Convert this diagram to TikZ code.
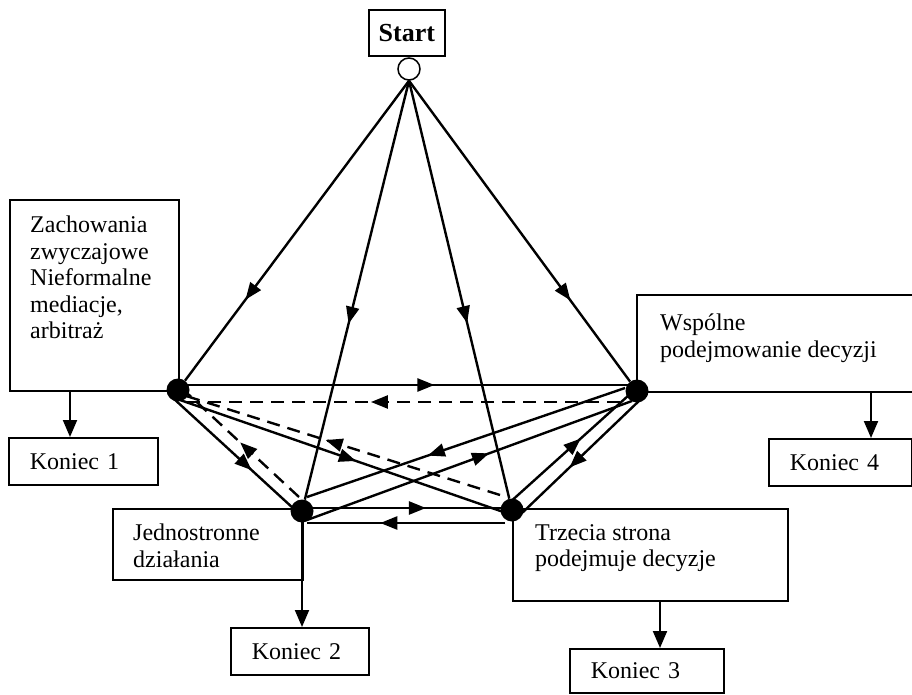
\documentclass[tikz,border=0pt]{standalone}
\usepackage{fontspec}
\setmainfont{Liberation Serif}
\usetikzlibrary{arrows.meta,decorations.markings,calc}
\begin{document}
\begin{tikzpicture}[x=1pt,y=-1pt,
  box/.style={draw,line width=1.6pt,inner sep=0pt},
  lbl/.style={font=\fontsize{24}{26.5}\selectfont,align=left,inner sep=0pt,anchor=north west},
  kbox/.style={draw,line width=1.6pt,font=\fontsize{24}{26.5}\selectfont,align=left,inner xsep=21pt,inner ysep=0pt,anchor=north west},
  dot/.style={circle,fill=black,inner sep=0pt,minimum size=23pt},
  edge/.style={line width=2.4pt},
  dashedge/.style={line width=2.4pt,dash pattern=on 13pt off 8pt},
  tip/.style={postaction={decorate},decoration={markings,mark=at position #1 with {\arrow{Triangle[length=17pt,width=13pt]}}}},
  down/.style={line width=2pt,-{Triangle[length=17pt,width=14pt]}}
]
\useasboundingbox (0,0) rectangle (912,695);

% boxes
\node[box,anchor=north west,minimum width=76pt,minimum height=46pt,font=\bfseries\fontsize{26}{30}\selectfont] (St) at (368,9) {Start};
\node[box,anchor=north west,minimum width=169pt,minimum height=191pt] (L) at (9,199) {};
\node[box,anchor=north west,minimum width=290pt,minimum height=97pt] (R) at (636,294) {};
\node[box,anchor=north west,minimum width=190pt,minimum height=71pt] (J) at (112,508) {};
\node[box,anchor=north west,minimum width=275pt,minimum height=92pt] (T) at (512,508) {};

\node[lbl] (Lt) at (30,216) {Zachowania\\zwyczajowe\\Nieformalne\\mediacje,\\arbitraż};
\node[lbl] (Rt) at (660,314) {Wspólne\\podejmowanie decyzji};
\node[lbl] (Jt) at (133,524) {Jednostronne\\działania};
\node[lbl] (Tt) at (535,524) {Trzecia strona\\podejmuje decyzje};

\node[kbox,text width=107pt,minimum height=47pt] (K1) at (8,437) {Koniec 1};
\node[kbox,text width=96pt,minimum height=47pt] (K2) at (230,627) {Koniec 2};
\node[kbox,text width=112pt,minimum height=44pt] (K3) at (569,648) {Koniec 3};
\node[kbox,text width=101pt,minimum height=47pt] (K4) at (768,438) {Koniec 4};

% start circle and dots
\node[circle,draw,line width=1.5pt,minimum size=22pt,inner sep=0pt,fill=white] (S) at (409,69) {};
\node[dot] (A) at (178,390) {};
\node[dot] (B) at (637,391) {};
\node[dot] (C) at (302,511) {};
\node[dot] (D) at (512,510) {};

% from start
\draw[edge,tip=0.73] (S.south) -- (A);
\draw[edge,tip=0.58] (S.south) -- (C);
\draw[edge,tip=0.58] (S.south) -- (D);
\draw[edge,tip=0.73] (S.south) -- (B);

% between dots
\draw[edge,tip=0.56] ($(A)+(5,-5)$) -- ($(B)+(-5,-6)$);
\draw[dashedge,tip=0.57] ($(B)+(-17,11)$) -- ($(A)+(5,12)$);
\draw[edge,tip=0.65] ($(A)+(-5,8)$) -- ($(C)+(-8,-2)$);
\draw[dashedge,tip=0.53] ($(C)+(-3,-14)$) -- ($(A)+(10,4)$);
\draw[edge,tip=0.53] ($(A)+(2,10)$) -- ($(D)+(0,5)$);
\draw[dashedge,tip=0.55] ($(D)+(-12,-15)$) -- ($(A)+(5,5)$);
\draw[edge,tip=0.62] ($(B)+(-12,-3)$) -- ($(C)+(5,-14)$);
\draw[edge,tip=0.56] ($(C)+(5,9)$) -- ($(B)+(-5,10)$);
\draw[edge,tip=0.6] ($(D)+(-4,-6)$) -- ($(B)+(-8,4)$);
\draw[edge,tip=0.6] ($(B)+(4,8)$) -- ($(D)+(10,3)$);
\draw[edge,tip=0.59] ($(C)+(3,-3)$) -- ($(D)+(-2,-2)$);
\draw[edge,tip=0.63] ($(D)+(-7,13)$) -- ($(C)+(5,12)$);

% to ends
\draw[down] ($(L.south west)+(61,0)$) coordinate (l1) -- (l1 |- K1.north);
\draw[down] (C.center) -- (C |- K2.north);
\draw[down] ($(T.south west)+(148,0)$) coordinate (t1) -- (t1 |- K3.north);
\draw[down] ($(R.south west)+(235,0)$) coordinate (r1) -- (r1 |- K4.north);
\end{tikzpicture}
\end{document}
